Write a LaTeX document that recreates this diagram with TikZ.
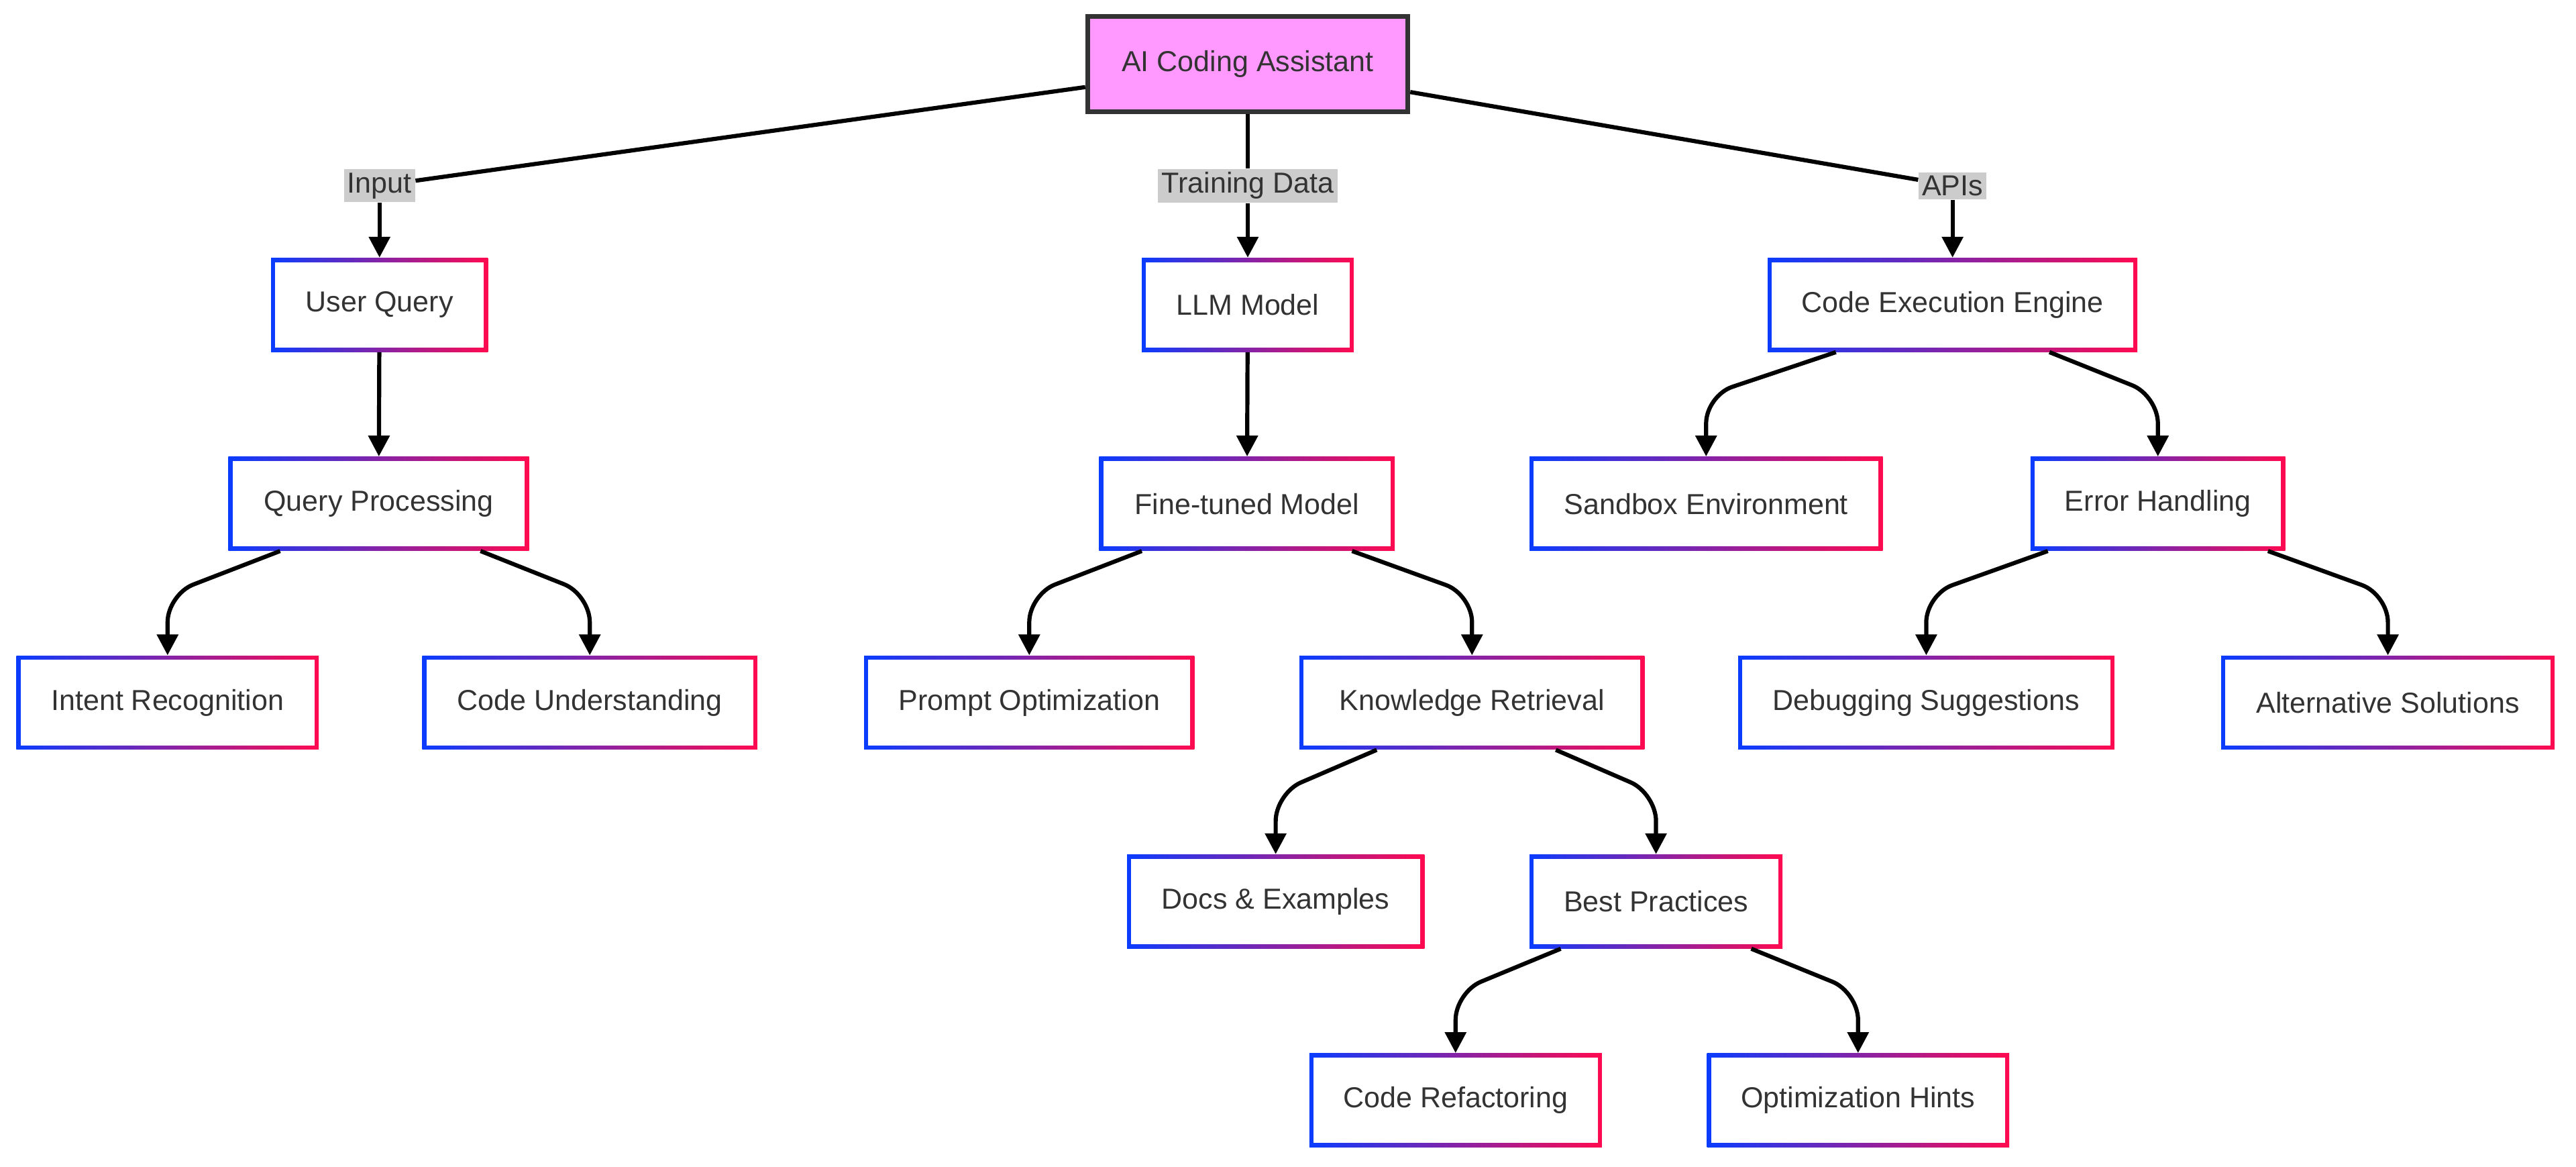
\documentclass[tikz,border=0pt]{standalone}
\usepackage{fontspec}
\setmainfont{Liberation Sans}
\usepackage{xcolor}
\usetikzlibrary{calc,arrows.meta}
\definecolor{gblue}{HTML}{0A3CFF}
\definecolor{gred}{HTML}{FF0A50}
\definecolor{rootfill}{HTML}{FF99FF}
\definecolor{txt}{HTML}{333333}
\definecolor{lblbg}{HTML}{CCCCCC}

\begin{document}
\begin{tikzpicture}[x=0.025cm, y=-0.025cm,
  every node/.style={font=\fontsize{12.5}{15}\selectfont, text=txt},
  box/.style={rectangle, minimum height=57*0.025cm, inner sep=0pt,
    left color=gblue, right color=gred,
    path picture={\fill[white] ([shift={(1.8pt,1.8pt)}]path picture bounding box.south west) rectangle ([shift={(-1.8pt,-1.8pt)}]path picture bounding box.north east);}},
  root/.style={rectangle, minimum width=195*0.025cm, minimum height=58*0.025cm, fill=rootfill, draw=txt, line width=2pt},
  lbl/.style={fill=lblbg, inner sep=1.5pt},
  edge/.style={line width=1.8pt, rounded corners=12, -{Triangle[length=9pt,width=9pt]}},
  link/.style={line width=1.8pt}
]
\useasboundingbox (0,0) rectangle (1568,709.7);

\node (ai) [root] at (759.5,39) {AI Coding Assistant};

\node (uq) [box, minimum width=132*0.025cm] at (231,185.5) {User Query};
\node (llm) [box, minimum width=129*0.025cm] at (759.5,185.5) {LLM Model};
\node (exec) [box, minimum width=225*0.025cm] at (1188.5,185.5) {Code Execution Engine};

\node (qp) [box, minimum width=183*0.025cm] at (230.5,306.5) {Query Processing};
\node (ft) [box, minimum width=180*0.025cm] at (759,306.5) {Fine-tuned Model};
\node (sand) [box, minimum width=215*0.025cm] at (1038.5,306.5) {Sandbox Environment};
\node (err) [box, minimum width=155*0.025cm] at (1313.5,306.5) {Error Handling};

\node (intent) [box, minimum width=184*0.025cm] at (102,427.5) {Intent Recognition};
\node (under) [box, minimum width=204*0.025cm] at (359,427.5) {Code Understanding};
\node (prompt) [box, minimum width=201*0.025cm] at (626.5,427.5) {Prompt Optimization};
\node (know) [box, minimum width=210*0.025cm] at (896,427.5) {Knowledge Retrieval};
\node (debug) [box, minimum width=229*0.025cm] at (1172.5,427.5) {Debugging Suggestions};
\node (alt) [box, minimum width=203*0.025cm] at (1453.5,427.5) {Alternative Solutions};

\node (docs) [box, minimum width=181*0.025cm] at (776.5,548.5) {Docs \& Examples};
\node (best) [box, minimum width=154*0.025cm] at (1008,548.5) {Best Practices};

\node (refac) [box, minimum width=178*0.025cm] at (886,669.5) {Code Refactoring};
\node (hints) [box, minimum width=184*0.025cm] at (1131,669.5) {Optimization Hints};

% edge labels
\node (lin) [lbl] at (231,113) {Input};
\node (ltrain) [lbl] at (759.5,113) {Training Data};
\node (lapi) [lbl] at (1188.5,113) {APIs};

\draw[link] ($(ai.west)+(0,14)$) -- (lin);
\draw[edge] (lin) -- (uq);
\draw[link] (ai) -- (ltrain);
\draw[edge] (ltrain) -- (llm);
\draw[link] ($(ai.east)+(0,17)$) -- (lapi);
\draw[edge] (lapi) -- (exec);

\draw[edge] (uq) -- (qp);
\draw[edge] (llm) -- (ft);

\draw[edge] ($(qp.south)+(-60,0)$) -- ($(intent.north)+(0,-37)$) -- (intent.north);
\draw[edge] ($(qp.south)+(62,0)$) -- ($(under.north)+(0,-37)$) -- (under.north);
\draw[edge] ($(ft.south)+(-64,0)$) -- ($(prompt.north)+(0,-37)$) -- (prompt.north);
\draw[edge] ($(ft.south)+(64,0)$) -- ($(know.north)+(0,-37)$) -- (know.north);
\draw[edge] ($(exec.south)+(-71,0)$) -- ($(sand.north)+(0,-37)$) -- (sand.north);
\draw[edge] ($(exec.south)+(59,0)$) -- ($(err.north)+(0,-37)$) -- (err.north);
\draw[edge] ($(err.south)+(-67,0)$) -- ($(debug.north)+(0,-37)$) -- (debug.north);
\draw[edge] ($(err.south)+(67,0)$) -- ($(alt.north)+(0,-37)$) -- (alt.north);
\draw[edge] ($(know.south)+(-58,0)$) -- ($(docs.north)+(0,-37)$) -- (docs.north);
\draw[edge] ($(know.south)+(51,0)$) -- ($(best.north)+(0,-37)$) -- (best.north);
\draw[edge] ($(best.south)+(-58,0)$) -- ($(refac.north)+(0,-37)$) -- (refac.north);
\draw[edge] ($(best.south)+(58,0)$) -- ($(hints.north)+(0,-37)$) -- (hints.north);

\end{tikzpicture}
\end{document}
